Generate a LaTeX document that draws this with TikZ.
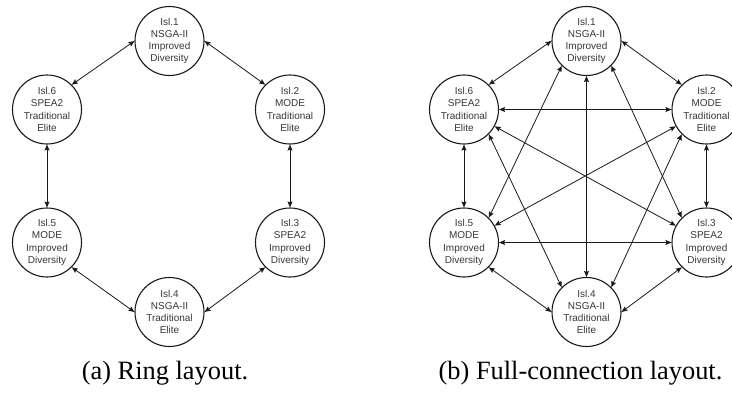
\documentclass[tikz,border=0pt]{standalone}
\usepackage{fontspec}
\setmainfont{Liberation Serif}
\setsansfont{Liberation Sans}
\usetikzlibrary{arrows.meta}
\definecolor{txtgray}{RGB}{55,55,55}
\definecolor{linegray}{RGB}{25,25,25}
\tikzset{
  island/.style={circle, draw=linegray, line width=1.1pt, minimum size=69pt, inner sep=0pt,
    align=center, text=txtgray, font=\sffamily\fontsize{10}{12.2}\selectfont},
  link/.style={draw=linegray, line width=0.8pt,
    {Stealth[length=6pt,width=5pt,inset=1pt]}-{Stealth[length=6pt,width=5pt,inset=1pt]}},
  captionlabel/.style={anchor=base, inner sep=0pt, font=\rmfamily\fontsize{26.4}{30}\selectfont}
}
\begin{document}
\begin{tikzpicture}[x=1pt,y=-1pt]
\clip (0,0) rectangle (732,392);
% ---------- panel (a): ring ----------
\node[island] (a1) at (169.5,41)   {Isl.1\\NSGA-II\\Improved\\Diversity};
\node[island] (a2) at (290,109.5)  {Isl.2\\MODE\\Traditional\\Elite};
\node[island] (a3) at (290,242.5)  {Isl.3\\SPEA2\\Improved\\Diversity};
\node[island] (a4) at (169.5,312)  {Isl.4\\NSGA-II\\Traditional\\Elite};
\node[island] (a5) at (47,242.5)   {Isl.5\\MODE\\Improved\\Diversity};
\node[island] (a6) at (47,109.5)   {Isl.6\\SPEA2\\Traditional\\Elite};
\draw[link] (a1.west) -- (a6.north east);
\draw[link] (a1.east) -- (a2.north west);
\draw[link] (a6.south) -- (a5.north);
\draw[link] (a2.south) -- (a3.north);
\draw[link] (a5.south east) -- (a4.west);
\draw[link] (a4.east) -- (a3.south west);
\node[captionlabel] (capa) at (165,379) {(a) Ring layout.};
% ---------- panel (b): full connection ----------
\node[island] (b1) at (586.5,41)   {Isl.1\\NSGA-II\\Improved\\Diversity};
\node[island] (b2) at (706.5,109.5){Isl.2\\MODE\\Traditional\\Elite};
\node[island] (b3) at (706.5,242.5){Isl.3\\SPEA2\\Improved\\Diversity};
\node[island] (b4) at (586.5,312)  {Isl.4\\NSGA-II\\Traditional\\Elite};
\node[island] (b5) at (464,242.5)  {Isl.5\\MODE\\Improved\\Diversity};
\node[island] (b6) at (464,109.5)  {Isl.6\\SPEA2\\Traditional\\Elite};
\draw[link] (b1.west) -- (b6.north east);
\draw[link] (b1.east) -- (b2.north west);
\draw[link] (b1.south west) -- (b5.north east);
\draw[link] (b1.south) -- (b4.north);
\draw[link] (b1.south east) -- (b3.north west);
\draw[link] (b6.east) -- (b2.west);
\draw[link] (b6.south) -- (b5.north);
\draw[link] (b6) -- (b3);
\draw[link] (b6.south east) -- (b4.north west);
\draw[link] (b2) -- (b5);
\draw[link] (b2.south west) -- (b4.north east);
\draw[link] (b2.south) -- (b3.north);
\draw[link] (b5.east) -- (b3.west);
\draw[link] (b5.south east) -- (b4.west);
\draw[link] (b4.east) -- (b3.south west);
\node[captionlabel] (capb) at (580.5,379) {(b) Full-connection layout.};
\end{tikzpicture}
\end{document}
